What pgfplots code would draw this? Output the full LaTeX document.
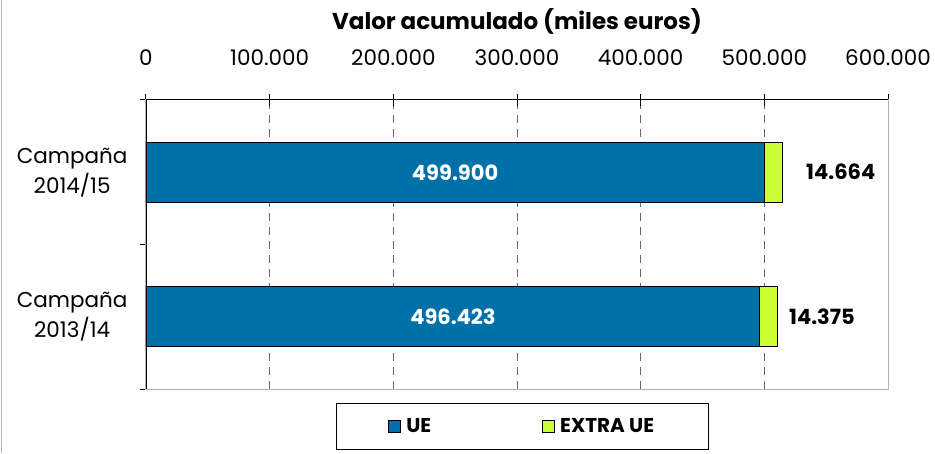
\documentclass[border=0pt]{standalone}
\usepackage{fontspec}
\setmainfont{Poppins}
\usepackage{pgfplots}
\pgfplotsset{compat=1.18}
\definecolor{ue}{RGB}{0,112,168}
\definecolor{extra}{RGB}{204,255,51}
\pgfplotsset{sqlegend/.style={legend image code/.code={\draw[##1,line width=1pt] (0pt,-6pt) rectangle (12pt,6pt);}}}
\begin{document}
\begin{tikzpicture}[x=1pt,y=1pt]
\useasboundingbox (0,0) rectangle (935,453);
\draw[gray!60, line width=1.5pt] (1.5,0) -- (1.5,453);
\begin{axis}[
  at={(146pt,64pt)}, anchor=south west,
  scale only axis, width=742pt, height=289pt,
  xmin=0, xmax=600000, ymin=-0.5, ymax=1.5,
  xbar stacked, bar width=60pt,
  axis line style={gray!60, line width=1pt},
  xtick={0,100000,...,600000},
  scaled x ticks=false,
  xtick pos=right, xticklabel pos=right,
  xtick align=center,
  major tick length=12pt, minor tick length=6pt,
  x tick style={black, line width=1pt},
  xticklabel style={anchor=center, yshift=36pt, font=\fontsize{21.5}{24}\selectfont},
  /pgf/number format/fixed,
  /pgf/number format/precision=0,
  /pgf/number format/1000 sep={.},
  /pgf/number format/assume math mode=true,
  xmajorgrids,
  grid style={dash pattern=on 8pt off 6pt, gray!80!black, line width=1pt},
  ytick={0,1}, yticklabels={Campaña\\2013/14, Campaña\\2014/15},
  minor ytick={-0.5,0.5,1.5},
  ytick pos=left, ytick align=outside,
  y tick style={black, line width=1pt},
  every major y tick/.append style={draw=none},
  yticklabel style={align=center, xshift=-3pt, font=\fontsize{21.5}{30}\selectfont},
  title={Valor acumulado (miles euros)},
  title style={at={(0.5,1)}, anchor=center, yshift=73pt, font=\bfseries\fontsize{23}{26}\selectfont},
  legend columns=2,
  legend style={at={(0.507,0)}, anchor=north, yshift=-14pt, draw=black, line width=1pt,
    font=\bfseries\fontsize{20}{22}\selectfont,
    /tikz/every even column/.append style={column sep=109pt},
    /tikz/every odd column/.append style={column sep=3pt},
    inner xsep=52pt, inner ysep=13pt},
]
\addplot[fill=ue, draw=black, line width=1pt, sqlegend] coordinates {(496423,0) (499900,1)};
\addplot[fill=extra, draw=black, line width=1pt, sqlegend] coordinates {(14375,0) (14664,1)};
\legend{UE, EXTRA UE}
\coordinate (ll) at (rel axis cs:0,0);
\coordinate (ul) at (rel axis cs:0,1);
\coordinate (ur) at (rel axis cs:1,1);
\coordinate (u1) at (axis cs:249950,1);
\coordinate (u0) at (axis cs:248211,0);
\coordinate (e1) at (axis cs:533700,1);
\coordinate (e0) at (axis cs:519900,0);
\end{axis}
\draw[black, line width=1pt] (ll) -- (ul) -- (ur);
\node[white, font=\bfseries\fontsize{21}{24}\selectfont] at (u1) {499.900};
\node[white, font=\bfseries\fontsize{21}{24}\selectfont] at (u0) {496.423};
\node[anchor=west, inner sep=0pt, font=\bfseries\fontsize{21}{24}\selectfont] at (e1) {14.664};
\node[anchor=west, inner sep=0pt, font=\bfseries\fontsize{21}{24}\selectfont] at (e0) {14.375};
\end{tikzpicture}
\end{document}
